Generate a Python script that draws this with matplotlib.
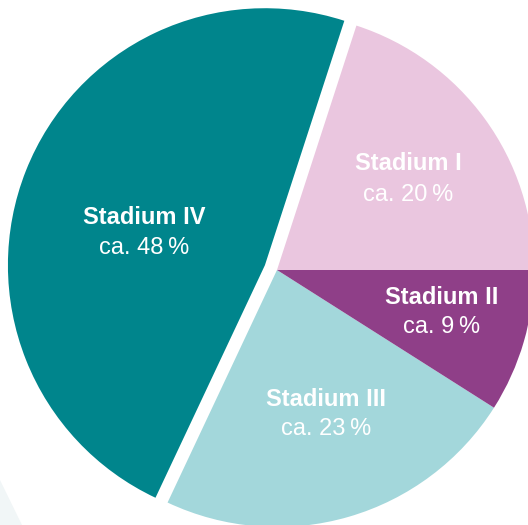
import matplotlib
matplotlib.use("Agg")
import matplotlib.pyplot as plt

# Data (counter-clockwise from 3 o'clock)
stages = ["Stadium I", "Stadium IV", "Stadium III", "Stadium II"]
shares = [20, 48, 23, 9]
share_labels = ["ca. 20\u2009%", "ca. 48\u2009%", "ca. 23\u2009%", "ca. 9\u2009%"]
colors = ["#EAC6DF", "#00858C", "#A3D7DB", "#8F3F88"]

W, H = 528, 525
R = 257
explode = [0, 13, 0, 0]  # data units (pixels)

fig = plt.figure(figsize=(W / 100, H / 100), dpi=100)
ax = fig.add_axes([0, 0, 1, 1])

# faint background decoration in bottom-left corner
ax.fill([0, 0, 22, 0], [0, 45, 0, 0], color="#F1F6F7", zorder=0, lw=0)

ax.pie(shares, colors=colors, startangle=0, counterclock=True,
       center=(277, H - 270), radius=R, explode=explode,
       wedgeprops=dict(linewidth=0), frame=True)
ax.set_xlim(0, W)
ax.set_ylim(0, H)
ax.set_aspect("equal")
ax.axis("off")

label_pos = {
    "Stadium I": (408, 164, 195),
    "Stadium IV": (144, 218, 248),
    "Stadium III": (326, 399, 429),
    "Stadium II": (442, 298, 327),
}
fam = ["Liberation Sans", "DejaVu Sans"]
for st, lab in zip(stages, share_labels):
    x, y1, y2 = label_pos[st]
    ax.text(x, H - y1, st, color="white", fontsize=17, fontweight="bold",
            ha="center", va="center", family=fam)
    ax.text(x, H - y2, lab, color="white", fontsize=17,
            ha="center", va="center", family=fam)

fig.savefig("out.png", dpi=100)
